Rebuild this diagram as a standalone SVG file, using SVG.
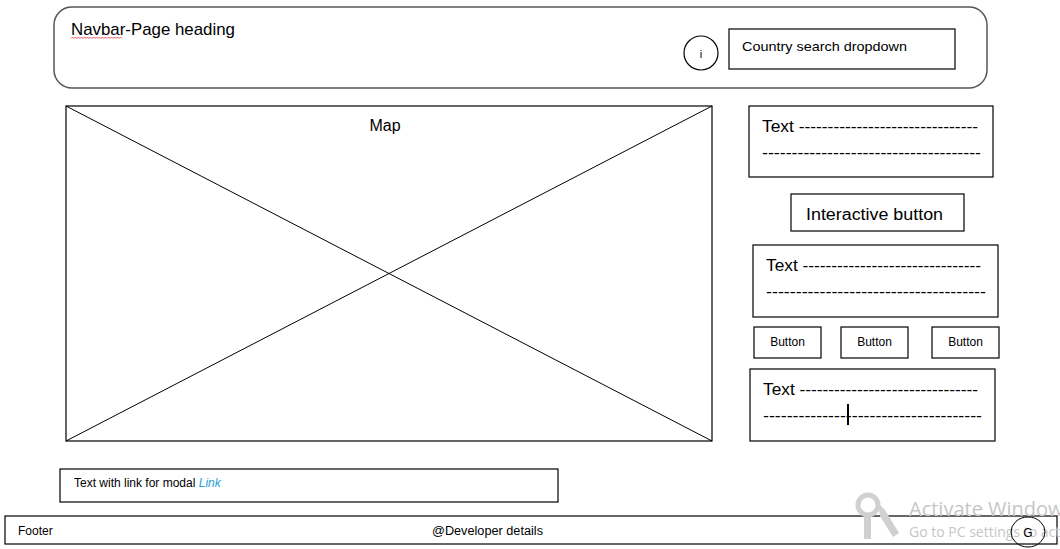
<svg xmlns="http://www.w3.org/2000/svg" width="1060" height="549" viewBox="0 0 1060 549">
<style>
.box{fill:#fff;stroke:#000;stroke-width:1.2}
.t{font-family:"Liberation Sans",Arial,sans-serif;fill:#000}
.wm{font-family:"Open Sans","Liberation Sans",sans-serif;fill:#c6c6c6}
</style>
<rect width="1060" height="549" fill="#fff"/>
<g id="navbar">
<rect x="54" y="7" width="933" height="81" rx="18" ry="18" fill="#fff" stroke="#555" stroke-width="1.5"/>
<text class="t" x="71" y="35" font-size="17" textLength="164" lengthAdjust="spacingAndGlyphs">Navbar-Page heading</text>
<path d="M71,38.5 l1.5,-1.5 l1.5,1.5 l1.5,-1.5 l1.5,1.5 l1.5,-1.5 l1.5,1.5 l1.5,-1.5 l1.5,1.5 l1.5,-1.5 l1.5,1.5 l1.5,-1.5 l1.5,1.5 l1.5,-1.5 l1.5,1.5 l1.5,-1.5 l1.5,1.5 l1.5,-1.5 l1.5,1.5 l1.5,-1.5 l1.5,1.5 l1.5,-1.5 l1.5,1.5 l1.5,-1.5 l1.5,1.5 l1.5,-1.5 l1.5,1.5 l1.5,-1.5 l1.5,1.5 l1.5,-1.5 l1.5,1.5 l1.5,-1.5 l1.5,1.5 l1.5,-1.5 l1.5,1.5" fill="none" stroke="#d33" stroke-width="0.8"/>
</g>
<g id="info">
<circle cx="701" cy="53" r="17" class="box"/>
<text class="t" x="701" y="58" font-size="11" text-anchor="middle">i</text>
</g>
<g id="country-search">
<rect x="729" y="29" width="226" height="40" class="box"/>
<text class="t" x="742" y="51" font-size="13" textLength="165" lengthAdjust="spacingAndGlyphs">Country search dropdown</text>
</g>
<g id="map">
<rect x="66" y="106" width="646" height="335" class="box"/>
<text class="t" x="385" y="131" font-size="16" text-anchor="middle">Map</text>
</g>
<g id="connectors">
<line x1="66" y1="106" x2="712" y2="441" stroke="#000" stroke-width="1"/>
<line x1="712" y1="106" x2="66" y2="441" stroke="#000" stroke-width="1"/>
</g>
<g id="text1">
<rect x="749" y="106" width="244" height="71" class="box"/>
<text class="t" x="762" y="132" font-size="16" textLength="216" lengthAdjust="spacingAndGlyphs">Text -------------------------------</text>
<text class="t" x="762" y="158" font-size="16" textLength="219" lengthAdjust="spacingAndGlyphs">-------------------------------------</text>
</g>
<g id="interactive-button">
<rect x="791" y="194" width="173" height="37" class="box"/>
<text class="t" x="806" y="220" font-size="16" textLength="137" lengthAdjust="spacingAndGlyphs">Interactive button</text>
</g>
<g id="text2">
<rect x="753" y="245" width="245" height="72" class="box"/>
<text class="t" x="766" y="271" font-size="16" textLength="215" lengthAdjust="spacingAndGlyphs">Text -------------------------------</text>
<text class="t" x="766" y="297" font-size="16" textLength="220" lengthAdjust="spacingAndGlyphs">-------------------------------------</text>
</g>
<g id="button1">
<rect x="754" y="327" width="67" height="31" class="box"/>
<text class="t" x="787.5" y="346" font-size="12" text-anchor="middle">Button</text>
</g>
<g id="button2">
<rect x="841" y="327" width="67" height="31" class="box"/>
<text class="t" x="874.5" y="346" font-size="12" text-anchor="middle">Button</text>
</g>
<g id="button3">
<rect x="932" y="327" width="67" height="31" class="box"/>
<text class="t" x="965.5" y="346" font-size="12" text-anchor="middle">Button</text>
</g>
<g id="text3">
<rect x="750" y="369" width="245" height="72" class="box"/>
<text class="t" x="763" y="395" font-size="16" textLength="215" lengthAdjust="spacingAndGlyphs">Text -------------------------------</text>
<text class="t" x="763" y="421" font-size="16" textLength="219" lengthAdjust="spacingAndGlyphs">-------------------------------------</text>
<line x1="848" y1="404" x2="848" y2="425" stroke="#000" stroke-width="2"/>
</g>
<g id="modal-link">
<rect x="60" y="469" width="498" height="33" class="box"/>
<text class="t" x="74" y="487" font-size="12">Text with link for modal <tspan fill="#1ea0d8" font-style="italic">Link</tspan></text>
</g>
<g id="footer">
<rect x="5" y="516" width="1052" height="28" class="box"/>
<text class="t" x="18" y="535" font-size="12">Footer</text>
<text class="t" x="432" y="535" font-size="12" textLength="111" lengthAdjust="spacingAndGlyphs">@Developer details</text>
</g>
<g id="watermark">
<g fill="#d0d0d0">
<circle cx="868" cy="505" r="10" fill="none" stroke="#d0d0d0" stroke-width="5"/>
<rect x="864" y="513" width="7" height="26"/>
<path d="M878,503 L885,510 L899,533 L893,537 L880,516 Z"/>
</g>
<text class="wm" x="909" y="516" font-size="20">Activate Windows</text>
<text class="wm" x="909" y="537" font-size="14">Go to PC settings to activate.</text>
</g>
<g id="g-button">
<ellipse cx="1028" cy="532" rx="17" ry="15" fill="none" stroke="#000" stroke-width="1"/>
<text class="t" x="1028" y="537" font-size="12" text-anchor="middle">G</text>
</g>
</svg>
